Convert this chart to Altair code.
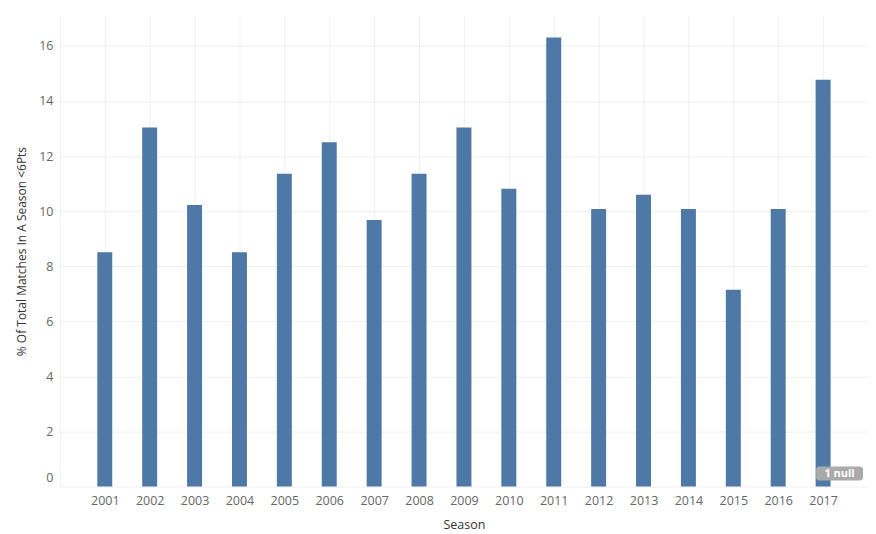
import altair as alt
import pandas as pd

seasons = list(range(2001, 2018))
pct_close = [8.51, 13.04, 10.22, 8.51, 11.36, 12.5, 9.68, 11.36, 13.04, 10.81,
             16.3, 10.08, 10.59, 10.08, 7.14, 10.08, 14.77]
x_ticks = list(range(2000, 2019))
y_ticks = [0, 2, 4, 6, 8, 10, 12, 14, 16]
null_label = ["1 null"]

df = pd.DataFrame({"Season": seasons, "Pct": pct_close})
df_null = pd.DataFrame({"label": null_label})

FONT = "Open Sans"

bars = alt.Chart(df).mark_bar(size=15, color="#4e79a7").encode(
    x=alt.X(
        "Season:Q",
        scale=alt.Scale(domain=[2000, 2018], nice=False, zero=False, padding=0),
        axis=alt.Axis(
            values=x_ticks,
            format="d",
            labelExpr="(datum.value < 2001 || datum.value > 2017) ? '' : datum.label",
            title="Season",
            grid=True,
            gridColor="#efefef",
            ticks=False,
            domain=False,
            labelFlush=False,
            labelPadding=8,
            labelFont=FONT,
            labelFontSize=12.5,
            labelColor="#666666",
            titleFont=FONT,
            titleFontSize=12.5,
            titleFontWeight="normal",
            titleColor="#333333",
            titlePadding=12,
        ),
    ),
    y=alt.Y(
        "Pct:Q",
        scale=alt.Scale(domain=[0, 17.1], nice=False, padding=0),
        axis=alt.Axis(
            values=y_ticks,
            title="% Of Total Matches In A Season <6Pts",
            grid=True,
            gridColor="#efefef",
            ticks=False,
            domain=False,
            labelFlush=False,
            labelPadding=7,
            labelOffset={"condition": {"test": "datum.value === 0", "value": -9}, "value": 0},
            labelFont=FONT,
            labelFontSize=12.5,
            labelColor="#666666",
            titleFont=FONT,
            titleFontSize=12,
            titleFontWeight="normal",
            titleColor="#333333",
            titlePadding=10,
        ),
    ),
)

badge = alt.Chart(df_null).mark_rect(color="#aaaaaa", cornerRadius=3).encode(
    x=alt.value(758), x2=alt.value(805), y=alt.value(452), y2=alt.value(466)
)
badge_text = alt.Chart(df_null).mark_text(
    color="white", font=FONT, fontSize=11, fontWeight="bold"
).encode(
    x=alt.value(781.5), y=alt.value(459.5), text="label:N"
)

chart = alt.layer(bars, badge, badge_text).properties(
    width=810,
    height=472,
    autosize=alt.AutoSizeParams(type="none"),
    padding={"left": 52, "top": 7, "right": 0, "bottom": 46},
).configure_view(stroke=None)

chart.save("out.html", embed_options={"renderer": "svg", "actions": False})
